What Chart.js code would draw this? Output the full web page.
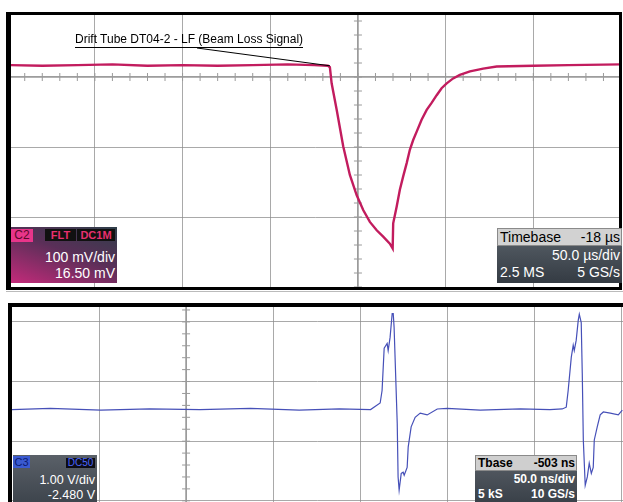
<!DOCTYPE html>
<html>
<head>
<meta charset="utf-8">
<script src="https://cdn.jsdelivr.net/npm/chart.js@4.4.0/dist/chart.umd.min.js"></script>
<style>
body { margin: 0; background: #fff; font-family: "Liberation Sans", Arial, sans-serif; }
#page { position: relative; width: 623px; height: 502px; overflow: hidden; }
canvas { position: absolute; }
.bar { position: absolute; background: #000; z-index: 3; }
.box { position: absolute; z-index: 4; color: #fff; overflow: hidden; }
.box div { position: absolute; white-space: nowrap; }
.tag { text-align: center; }
.r { right: 2px; }
.l { left: 3px; }
#note { position: absolute; left: 75px; top: 32px; font-size: 12px; color: #000; border-bottom: 1px solid #000; line-height: 15px; z-index: 4; }
</style>
</head>
<body>
<div id="page">
  <canvas id="top" width="611" height="273" style="left:10px;top:14px"></canvas>
  <canvas id="bottom" width="611" height="195" style="left:12px;top:307px"></canvas>

  <div class="bar" style="left:6px;top:12px;width:616px;height:3px"></div>
  <div class="bar" style="left:6px;top:12px;width:5px;height:278px"></div>
  <div class="bar" style="left:619px;top:12px;width:3px;height:278px"></div>
  <div class="bar" style="left:6px;top:287px;width:616px;height:3px"></div>
  <div class="bar" style="left:6px;top:291px;width:617px;height:1px;background:#bbb"></div>
  <div class="bar" style="left:8px;top:303px;width:615px;height:4px"></div>
  <div class="bar" style="left:8px;top:303px;width:4px;height:199px"></div>

  <div id="note">Drift Tube DT04-2 - LF (Beam Loss Signal)</div>

  <div class="box" style="left:11px;top:227px;width:106px;height:56px;background:linear-gradient(200deg,#2f3f4a 0%,#5a2f58 45%,#c42a7a 100%)">
    <div class="tag" style="left:0;top:2px;width:22px;height:13px;background:#e8358a;color:#5a0a2a;font-size:12px;line-height:13px">C2</div>
    <div class="tag" style="left:34px;top:2px;width:31px;height:12px;background:#111;color:#e8306e;font-size:11px;font-weight:bold;line-height:12px">FLT</div>
    <div class="tag" style="left:66px;top:2px;width:38px;height:12px;background:#111;color:#e8306e;font-size:11px;font-weight:bold;line-height:12px">DC1M</div>
    <div class="r" style="top:22px;font-size:14px">100 mV/div</div>
    <div class="r" style="top:38px;font-size:14px">16.50 mV</div>
  </div>

  <div class="box" style="left:497px;top:228px;width:125px;height:55px;background:linear-gradient(to bottom,#5c646c,#343b43)">
    <div style="left:0;top:0;width:123px;height:16px;background:#d2d2d2;border:1px solid #8a8a8a"></div>
    <div class="l" style="top:1px;font-size:14px;color:#000">Timebase</div>
    <div class="r" style="top:1px;font-size:14px;color:#000">-18 µs</div>
    <div class="r" style="top:19px;font-size:14px">50.0 µs/div</div>
    <div class="l" style="top:36px;font-size:14px">2.5 MS</div>
    <div class="r" style="top:36px;font-size:14px">5 GS/s</div>
  </div>

  <div class="box" style="left:13px;top:455px;width:84px;height:47px;background:linear-gradient(to bottom,#5a6068,#3e454d)">
    <div class="tag" style="left:0;top:1px;width:17px;height:12px;background:#3a5ad0;color:#0c1a70;font-size:11px;line-height:12px">C3</div>
    <div class="tag" style="left:53px;top:3px;width:29px;height:10px;background:#0c0c14;color:#4a66ff;font-size:10px;line-height:10px">DC50</div>
    <div class="r" style="top:18px;font-size:12.5px">1.00 V/div</div>
    <div class="r" style="top:33px;font-size:12.5px">-2.480 V</div>
  </div>

  <div class="box" style="left:475px;top:455px;width:102px;height:47px;background:linear-gradient(to bottom,#5a6068,#3a4149)">
    <div style="left:0;top:0;width:100px;height:14px;background:#cfcfcf;border:1px solid #8a8a8a"></div>
    <div class="l" style="top:1px;font-size:12px;color:#000;font-weight:bold">Tbase</div>
    <div class="r" style="top:1px;font-size:12px;color:#000;font-weight:bold">-503 ns</div>
    <div class="r" style="top:17px;font-size:12px;font-weight:bold">50.0 ns/div</div>
    <div class="l" style="top:32px;font-size:12px;font-weight:bold">5 kS</div>
    <div class="r" style="top:32px;font-size:12px;font-weight:bold">10 GS/s</div>
  </div>
</div>

<script>
// C2 - drift tube signal (time in us, amplitude in mV)
const topTime = [-198, -180, -160, -140, -120, -100, -80, -60, -40, -25, -17.1,
  -16, -15, -12.1, -8.4, -4.6, -0.7, 3.0, 6.8, 10.7, 14.4, 18.2, 19.8,
  20.1, 22.1, 23.9, 25.8, 27.8, 29.6, 31.5, 33.5, 36.3, 39.2, 42, 44.9, 47.7,
  50.6, 54.3, 58.1, 63.9, 71.4, 79.1, 100, 120, 150];
const topVolt = [17, 16, 17, 18, 16, 17, 16, 17, 18, 17, 16,
  14, -9, -47, -99, -140, -169, -190, -207, -219, -228, -238, -245,
  -209, -185, -161, -142, -123, -104, -90, -78, -61, -47, -37, -26, -16,
  -9, -2, 3, 8, 12, 15, 16, 17, 18];

// C3 - pickup signal (time in ns, amplitude in V)
const botTime = [-100, -78, -49, -21, 8, 37, 65, 88, 106, 111.5,
  112.6, 113.8, 115.5, 116.1, 117.2, 118.4, 119, 119.5, 121.3, 121.8, 122.4,
  123.6, 124.7, 125.3, 127, 127.6, 129.3, 131.6, 134.5, 138.5, 144.3, 150,
  169, 192, 209, 216.1, 218.4, 219.5, 221.3, 222.4, 223, 224.1, 225.3, 225.9, 227,
  227.6, 228.2, 229.3, 230.5, 231.6, 232.8, 233.9, 234.5, 236.2, 237.9, 239.7,
  243.7, 248.3, 250.6];
const botVolt = [0.53, 0.55, 0.52, 0.54, 0.53, 0.55, 0.52, 0.54, 0.53, 0.64,
  0.85, 1.56, 1.64, 1.52, 1.74, 2.14, 2.14, 1.91, 0.30, -0.60, -0.82,
  -0.54, -0.52, -0.57, -0.44, -0.10, 0.24, 0.40, 0.47, 0.44, 0.54, 0.55,
  0.52, 0.54, 0.53, 0.54, 0.57, 0.85, 1.41, 1.61, 1.52, 1.69, 2.03, 2.13, 1.99,
  1.14, 0.02, -0.74, -0.60, -0.37, -0.54, -0.44, 0.02, 0.24, 0.44, 0.49,
  0.47, 0.44, 0.52];

const topXGrid = [-150, -100, -50, 0, 50, 100, 150];
const topYGrid = [0, -100, -200];
const botXGrid = [-50, 0, 50, 100, 150, 200, 250];
const botYGrid = [2, 1, 0, -1];

const gridColor = 'rgba(140,140,140,0.75)';

function pts(xs, ys) {
  return xs.map((x, i) => ({ x: x, y: ys[i] }));
}

// center axis with small division ticks, like the scope graticule
const graticule = {
  id: 'graticule',
  beforeDatasetsDraw(chart, args, o) {
    const ctx = chart.ctx, a = chart.chartArea;
    const xs = chart.scales.x, ys = chart.scales.y;
    ctx.save();
    ctx.strokeStyle = '#9a9a9a';
    const cx = xs.getPixelForValue(0);
    ctx.lineWidth = 1.6;
    ctx.beginPath();
    ctx.moveTo(cx, a.top); ctx.lineTo(cx, a.bottom);
    ctx.stroke();
    ctx.lineWidth = 1;
    for (let v = Math.ceil(ys.min / o.yStep) * o.yStep; v <= ys.max; v += o.yStep) {
      const p = ys.getPixelForValue(v);
      ctx.beginPath(); ctx.moveTo(cx - 4, p); ctx.lineTo(cx + 4, p); ctx.stroke();
    }
    if (o.hAxis) {
      const cy = ys.getPixelForValue(0);
      ctx.lineWidth = 1.6;
      ctx.beginPath();
      ctx.moveTo(a.left, cy); ctx.lineTo(a.right, cy);
      ctx.stroke();
      ctx.lineWidth = 1;
      for (let v = Math.ceil(xs.min / o.xStep) * o.xStep; v <= xs.max; v += o.xStep) {
        const p = xs.getPixelForValue(v);
        ctx.beginPath(); ctx.moveTo(p, cy - 4); ctx.lineTo(p, cy + 4); ctx.stroke();
      }
    }
    ctx.restore();
  },
  afterDatasetsDraw(chart, args, o) {
    if (!o.pointer) return;
    // pointer line from the label to the knee of the trace
    const ctx = chart.ctx;
    const px = chart.scales.x.getPixelForValue(topTime[10]);
    const py = chart.scales.y.getPixelForValue(topVolt[10]);
    ctx.save();
    ctx.strokeStyle = '#000';
    ctx.lineWidth = 1;
    ctx.beginPath();
    ctx.moveTo(187, 34);
    ctx.lineTo(px + 2, py);
    ctx.stroke();
    ctx.restore();
  }
};

function scopeChart(id, data, color, width, xr, yr, xGrid, yGrid, opts) {
  return new Chart(document.getElementById(id), {
    type: 'line',
    data: {
      datasets: [{
        data: data,
        borderColor: color,
        borderWidth: width,
        pointRadius: 0,
        tension: 0,
        fill: false
      }]
    },
    options: {
      responsive: false,
      animation: false,
      devicePixelRatio: 1,
      layout: { padding: 0 },
      plugins: { legend: { display: false }, tooltip: { enabled: false }, graticule: opts },
      scales: {
        x: {
          type: 'linear', min: xr[0], max: xr[1],
          afterBuildTicks: s => { s.ticks = xGrid.map(v => ({ value: v })); },
          ticks: { display: false },
          border: { display: false },
          grid: { drawTicks: false, color: gridColor, lineWidth: 1, borderDash: [2, 2] }
        },
        y: {
          min: yr[0], max: yr[1],
          afterBuildTicks: s => { s.ticks = yGrid.map(v => ({ value: v })); },
          ticks: { display: false },
          border: { display: false },
          grid: { drawTicks: false, color: gridColor, lineWidth: 1, borderDash: [2, 2] }
        }
      }
    },
    plugins: [graticule]
  });
}

scopeChart('top', pts(topTime, topVolt), '#c21c5e', 2.4, [-198.4, 150], [-300, 90],
  topXGrid, topYGrid, { hAxis: true, xStep: 10, yStep: 20, pointer: true });
scopeChart('bottom', pts(botTime, botVolt), '#4650b8', 1.2, [-100, 251], [-1.02, 2.25],
  botXGrid, botYGrid, { hAxis: false, xStep: 10, yStep: 0.2, pointer: false });
</script>
</body>
</html>
